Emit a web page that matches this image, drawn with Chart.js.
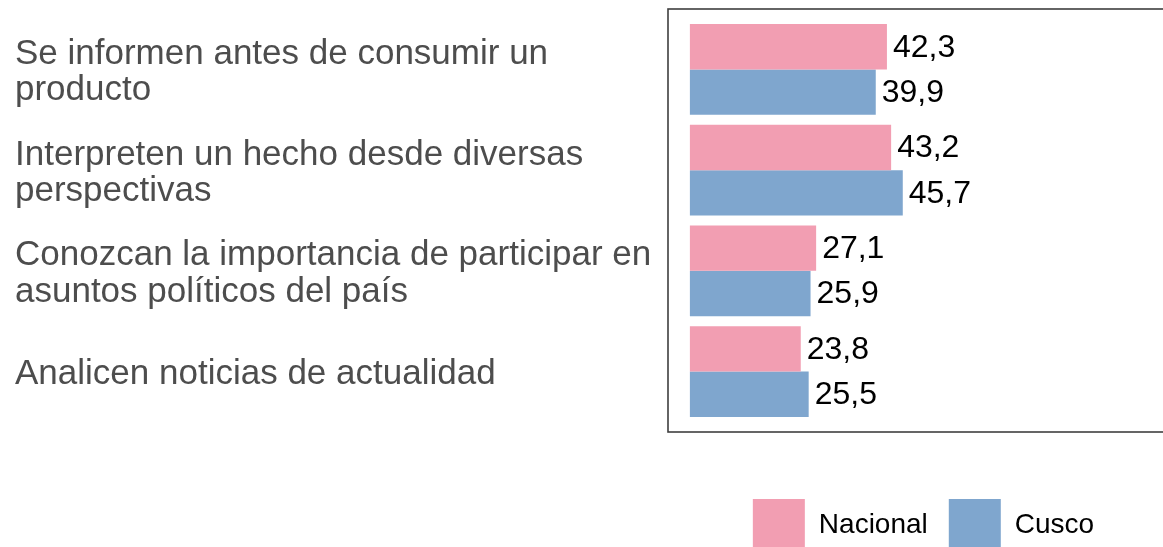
<!DOCTYPE html>
<html>
<head>
<meta charset="utf-8">
<script src="https://cdn.jsdelivr.net/npm/chart.js@4/dist/chart.umd.min.js"></script>
<style>
  html, body { margin: 0; padding: 0; background: #fff; overflow: hidden; }
</style>
</head>
<body>
<canvas id="myChart" width="1190" height="561"></canvas>
<script>
var categories = [
    ["Se informen antes de consumir un", "producto"],
    ["Interpreten un hecho desde diversas", "perspectivas"],
    ["Conozcan la importancia de participar en", "asuntos políticos del país"],
    ["Analicen noticias de actualidad"]
];
var nacional = [42.3, 43.2, 27.1, 23.8];
var cusco = [39.9, 45.7, 25.9, 25.5];
var seriesNames = ["Nacional", "Cusco"];

var pink = "rgb(242, 158, 178)",
    blue = "rgb(127, 166, 206)";

function fmt(v) {
    return v.toFixed(1).replace(".", ",");
}

// frame around the plotting area
var panelBorder = {
    id: "panelBorder",
    afterDraw: function(chart) {
        var a = chart.chartArea, ctx = chart.ctx;
        ctx.save();
        ctx.strokeStyle = "#3f3f3f";
        ctx.lineWidth = 1.6;
        ctx.strokeRect(a.left, a.top, a.right - a.left, a.bottom - a.top);
        ctx.restore();
    }
};

// value at the end of each bar
var barValues = {
    id: "barValues",
    afterDatasetsDraw: function(chart) {
        var ctx = chart.ctx;
        ctx.save();
        ctx.font = "32px 'Liberation Sans', Arial, sans-serif";
        ctx.fillStyle = "#000";
        ctx.textBaseline = "middle";
        ctx.textAlign = "left";
        chart.data.datasets.forEach(function(ds, di) {
            chart.getDatasetMeta(di).data.forEach(function(bar, i) {
                ctx.fillText(fmt(ds.data[i].x), bar.x + 6, bar.y + 1);
            });
        });
        ctx.restore();
    }
};

function chart() {
    var ctx = document.getElementById("myChart").getContext("2d");
    var data = {
        datasets: [{
            label: seriesNames[0],
            data: nacional.map(function(v, i) { return { x: v, y: i }; }),
            backgroundColor: pink
        }, {
            label: seriesNames[1],
            data: cusco.map(function(v, i) { return { x: v, y: i }; }),
            backgroundColor: blue
        }]
    };

    new Chart(ctx, {
        type: "bar",
        data: data,
        options: {
            indexAxis: "y",
            responsive: false,
            animation: false,
            devicePixelRatio: 1,
            categoryPercentage: 0.9,
            barPercentage: 1,
            layout: { padding: { left: 15, top: 9, right: 11, bottom: 0 } },
            scales: {
                x: {
                    type: "linear",
                    min: -4.7,
                    max: 105,
                    grid: { display: false },
                    border: { display: false },
                    ticks: { display: false },
                    afterFit: function(scale) { scale.height = 46; }
                },
                y: {
                    type: "linear",
                    min: -0.6,
                    max: 3.6,
                    offset: false,
                    reverse: true,
                    grid: { display: false },
                    border: { display: false },
                    afterBuildTicks: function(scale) {
                        scale.ticks = categories.map(function(c, i) { return { value: i }; });
                    },
                    afterFit: function(scale) {
                        scale.width = 653;
                        scale.paddingTop = 0;
                        scale.paddingBottom = 0;
                    },
                    ticks: {
                        crossAlign: "far",
                        labelOffset: 3,
                        color: "#4d4d4d",
                        font: { family: "'Liberation Sans', Arial, sans-serif", size: 35, lineHeight: 1.03 },
                        callback: function(value) { return categories[value]; }
                    }
                }
            },
            plugins: {
                tooltip: { enabled: false },
                legend: {
                    position: "bottom",
                    fullSize: false,
                    labels: {
                        boxWidth: 52,
                        boxHeight: 52,
                        padding: 21,
                        color: "#000",
                        font: { family: "'Liberation Sans', Arial, sans-serif", size: 28 }
                    }
                }
            }
        },
        plugins: [panelBorder, barValues]
    });
}

document.addEventListener("DOMContentLoaded", function() {
    chart();
}, false);
</script>
</body>
</html>
